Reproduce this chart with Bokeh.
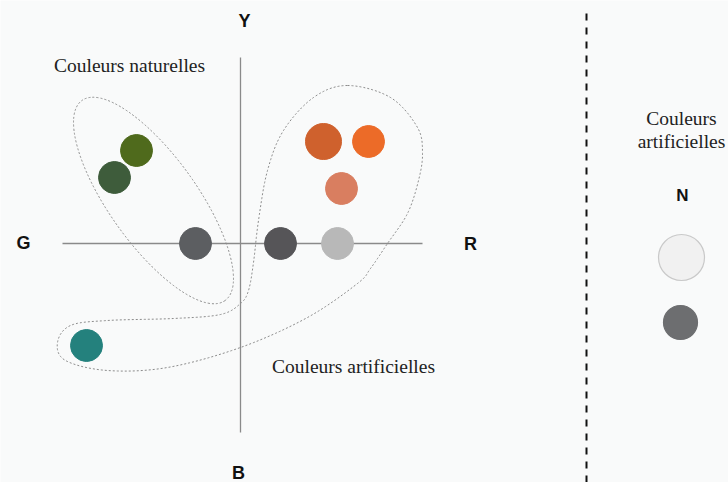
import numpy as np
from bokeh.plotting import figure
from bokeh.models import Range1d, ColumnDataSource
from bokeh.core.properties import value
from bokeh.embed import file_html
from bokeh.resources import INLINE

# ---- data (chart coordinates: origin at the G-R / Y-B crossing) ----
dot_names = ["olive", "vert", "gris", "gris foncé", "gris clair", "orange foncé", "orange", "saumon", "turquoise"]
dot_x = [-104, -126, -45, 40, 97, 83, 128, 101, -154]
dot_y = [93, 66, 0, 0, 0, 102, 102, 55, -102]
dot_r = [16, 16, 16, 16, 16, 18, 16, 16, 16]
dot_colors = ["#4f6a1c", "#3e5c3b", "#5c5e61", "#565558", "#b8b8b8", "#cf612d", "#ec6b28", "#d97e60", "#24817d"]

neutral_x = [441, 440]
neutral_y = [-14, -79]
neutral_r = [23, 17]
neutral_colors = ["#f1f1f1", "#6d6e70"]
neutral_lines = ["#c9c9c9", "#6d6e70"]

axis_letters = ["Y", "G", "R", "B"]
axis_letter_x = [4, -217, 230, -2]
axis_letter_y = [223, 1, 0, -229]

# natural-colour group (ellipse)
nat_cx, nat_cy, nat_w, nat_h, nat_angle = -87, 43, 246, 88, -0.95

# artificial-colour group outline (control points)
art_x = [107, 150, 177, 182, 178, 167, 147, 130, 117, 67, 0, -73, -133, -175, -183, -170,
         -133, -67, -20, 0, 8, 13, 18, 27, 43, 73]
art_y = [158, 146, 116, 90, 63, 30, 0, -25, -40, -74, -104, -124, -127, -117, -99, -82,
         -77, -75, -71, -60, -47, -19, 23, 73, 113, 146]


def closed_catmull_rom(xs, ys, n=16):
    pts = np.column_stack([xs, ys]).astype(float)
    m = len(pts)
    out = []
    for i in range(m):
        p0, p1, p2, p3 = pts[(i - 1) % m], pts[i], pts[(i + 1) % m], pts[(i + 2) % m]
        for t in np.linspace(0, 1, n, endpoint=False):
            t2, t3 = t * t, t * t * t
            out.append(0.5 * ((2 * p1) + (-p0 + p2) * t + (2 * p0 - 5 * p1 + 4 * p2 - p3) * t2
                              + (-p0 + 3 * p1 - 3 * p2 + p3) * t3))
    out.append(out[0])
    out = np.array(out)
    return out[:, 0], out[:, 1]


BG = "#f9fafa"
p = figure(width=728, height=482, x_range=Range1d(-240, 488), y_range=Range1d(-239, 243),
           output_backend="svg", toolbar_location=None, min_border=0,
           background_fill_color=BG, border_fill_color=BG)
p.axis.visible = False
p.grid.visible = False
p.outline_line_color = None

# axes of the colour space
p.segment(x0=[0, -178], y0=[186, 0], x1=[0, 182], y1=[-189, 0], line_color="#8a8a8a", line_width=1.3)

# group outlines
p.ellipse(x=[nat_cx], y=[nat_cy], width=[nat_w], height=[nat_h], angle=[nat_angle],
          fill_color=None, line_color="#8c8c8c", line_width=1, line_dash="2 2")
sx, sy = closed_catmull_rom(art_x, art_y)
p.line(sx, sy, line_color="#8c8c8c", line_width=1, line_dash="2 2")

# dots
src = ColumnDataSource(dict(x=dot_x, y=dot_y, r=dot_r, c=dot_colors, name=dot_names))
p.circle(x="x", y="y", radius="r", fill_color="c", line_color="c", source=src)

nsrc = ColumnDataSource(dict(x=neutral_x, y=neutral_y, r=neutral_r, c=neutral_colors, lc=neutral_lines))
p.circle(x="x", y="y", radius="r", fill_color="c", line_color="lc", line_width=1.2, source=nsrc)

# separator
p.line([346, 346], [230, -239], line_color="#111111", line_width=2, line_dash="7 7")

# letters
p.text(x=axis_letter_x, y=axis_letter_y, text=axis_letters, text_font=value("Liberation Sans"),
       text_font_style="bold", text_font_size="18px", text_align="center", text_baseline="middle",
       text_color="#111111")
p.text(x=[442], y=[48], text=["N"], text_font=value("Liberation Sans"),
       text_font_style="bold", text_font_size="17px", text_align="center", text_baseline="middle",
       text_color="#111111")

serif = dict(text_font=value("Liberation Serif"), text_font_size="19.5px", text_align="center",
             text_baseline="middle", text_color="#222222")
p.text(x=[-111], y=[178], text=["Couleurs naturelles"], **serif)
p.text(x=[113], y=[-123], text=["Couleurs artificielles"], **serif)
p.text(x=[441, 441], y=[125, 102], text=["Couleurs", "artificielles"], **serif)

open("out.html", "w").write(file_html(p, INLINE))
